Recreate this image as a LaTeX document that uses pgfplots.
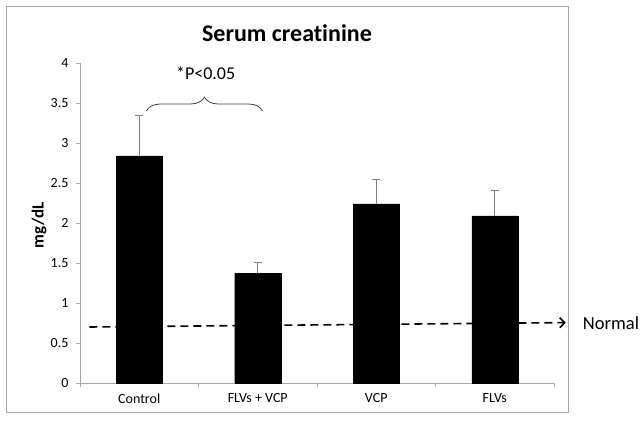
\documentclass[border=0pt]{standalone}
\usepackage{pgfplots}
\pgfplotsset{compat=1.18}
\usepackage{fontspec}
\setmainfont{Carlito}[Ligatures=NoCommon]
\usetikzlibrary{decorations.pathreplacing,arrows.meta}
\newcommand{\tl}{\fontsize{14}{16}\selectfont}
\begin{document}
\begin{tikzpicture}
\begin{pgfinterruptboundingbox}
\begin{axis}[
  name=ax, anchor=south west,
  scale only axis, width=474pt, height=320pt,
  xmin=-0.5, xmax=3.5, ymin=0, ymax=4,
  axis x line*=bottom, axis y line*=left,
  axis line style={gray!70, line width=0.6pt},
  tick style={gray!70, line width=0.6pt},
  tick align=outside, major tick length=4pt,
  xtick={-0.5,0.5,1.5,2.5,3.5},
  x tick label as interval,
  xticklabels={{\tl Control}, {\tl FLVs + VCP}, {\tl VCP}, {\tl FLVs}},
  ytick={0,0.5,...,4},
  yticklabels={{\tl 0},{\tl 0.5},{\tl 1},{\tl 1.5},{\tl 2},{\tl 2.5},{\tl 3},{\tl 3.5},{\tl 4}},
  every tick label/.append style={font=\tl},
  /pgf/number format/assume math mode=true,
  xticklabel style={yshift=-3pt, text depth=2pt},
  yticklabel style={xshift=-4pt},
  clip=false,
]
\addplot[ybar, bar width=46pt, fill=black, draw=black,
  error bars/.cd, y dir=plus, y explicit,
  error bar style={gray, line width=0.8pt},
  error mark options={rotate=90, gray, mark size=4pt, line width=0.8pt}]
  coordinates {(0,2.84) +- (0,0.51) (1,1.37) +- (0,0.14) (2,2.24) +- (0,0.31) (3,2.09) +- (0,0.32)};
\addplot[black, line width=1.6pt, dash pattern=on 8pt off 5pt, -{Straight Barb[length=5pt,width=10pt,line width=1.6pt]}]
  coordinates {(-0.42,0.70) (3.6,0.755)};
\draw[decorate, decoration={brace, amplitude=14pt}, black!75, line width=0.8pt]
  (axis cs:0.06,3.40) -- (axis cs:1.04,3.40);
\node[font=\fontsize{18}{20}\selectfont] at (axis cs:0.56,3.87) {*P<0.05};
\end{axis}
\end{pgfinterruptboundingbox}
\begin{scope}[shift={(ax.south west)}, x=1pt, y=1pt]
\useasboundingbox (-80,-41) rectangle (563,383);
\draw[gray!70, line width=0.8pt] (-74,-29) rectangle (488,377);
\node[font=\bfseries\fontsize{24}{28}\selectfont] at (207,350) {Serum creatinine};
\node[font=\bfseries\fontsize{17}{19}\selectfont, rotate=90] at (-41,158) {mg/dL};
\node[font=\fontsize{18.5}{21}\selectfont] at (531,60) {Normal};
\end{scope}
\end{tikzpicture}
\end{document}
